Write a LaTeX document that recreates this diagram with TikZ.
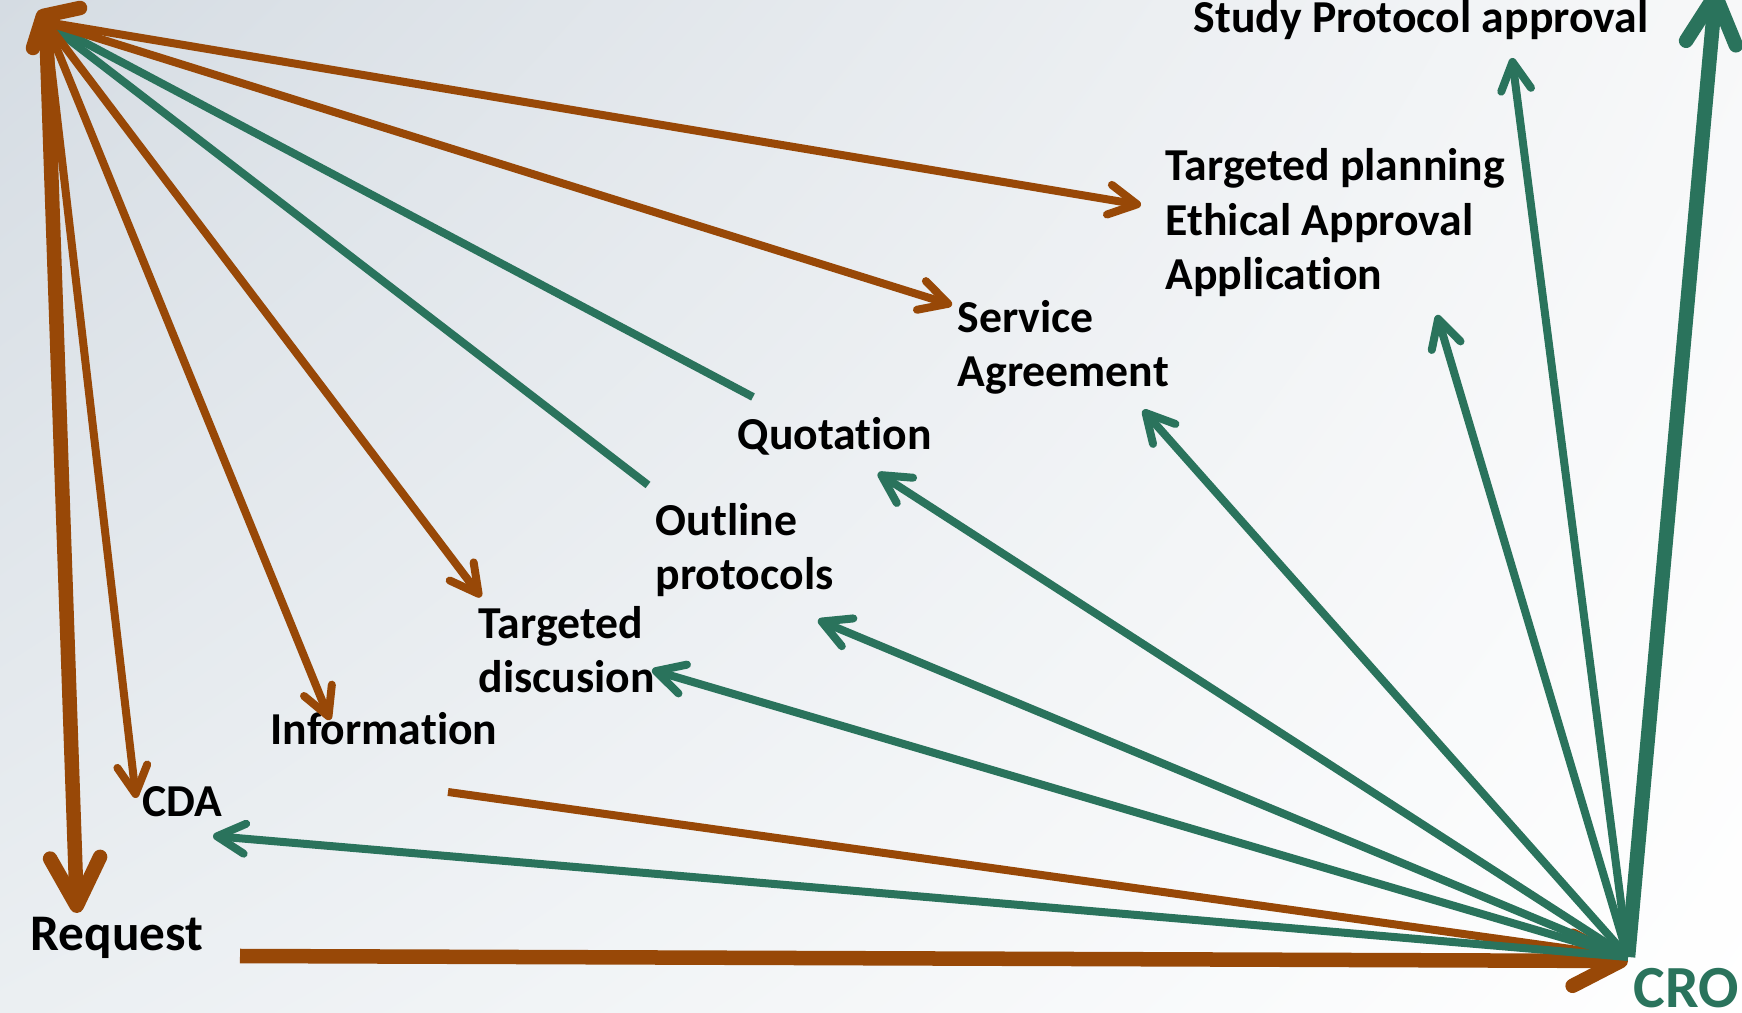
\documentclass[tikz,border=0pt]{standalone}
\usepackage{fontspec}
\setmainfont{Carlito}[Ligatures=NoCommon]
\usetikzlibrary{arrows.meta}
\usetikzlibrary{shadings}
\definecolor{brn}{HTML}{984807}
\definecolor{grn}{HTML}{2A735C}
\definecolor{bga}{HTML}{D5DCE3}
\definecolor{bgb}{HTML}{F7F8F9}
\definecolor{bgc}{HTML}{EBEFF2}
\tikzstyle{lbl}=[inner sep=0pt,anchor=base west,align=left,font=\bfseries\fontsize{13}{15.6}\selectfont]
\tikzstyle{arr}=[line width=0.08cm,-{Straight Barb[length=0.28cm,width=0.3cm,round]}]
\tikzstyle{arrfat}=[line width=0.145cm,-{Straight Barb[length=0.48cm,width=0.5cm,round]}]
\tikzstyle{seg}=[line width=0.08cm]

\begin{document}
\begin{tikzpicture}[x=0.01cm,y=-0.01cm]
  \shade[upper left=bga,upper right=bgb,lower left=bgc,lower right=white] (0,0) rectangle (1742,1013);
  \useasboundingbox (0,0) rectangle (1742,1013);

  \node [lbl] (spa) at (1193,33) {Study Protocol approval};
  \node [lbl] (tpl) at (1165,290) {Targeted planning\\Ethical Approval\\Application};
  \node [lbl] (svc) at (957,387) {Service\\Agreement};
  \node [lbl] (quo) at (737,450) {Quotation};
  \node [lbl] (out) at (655,590) {Outline\\protocols};
  \node [lbl] (tdis) at (478,693) {Targeted\\discusion};
  \node [lbl] (inf) at (270,745) {Information};
  \node [lbl] (cda) at (142,817) {CDA};
  \node [lbl,font=\bfseries\fontsize{14.6}{17}\selectfont] (req) at (30,950) {Request};
  \node [lbl,text=grn,font=\bfseries\fontsize{17}{20}\selectfont] (cro) at (1633,1008) {CRO};

  \coordinate (hub) at (46,22);
  \coordinate (cx) at (1628,957);
  \coordinate (h-tip) at (43,16);
  \coordinate (h-w1) at (33,48);
  \coordinate (h-w2) at (80,8);
  \coordinate (t-req) at (77,913);
  \coordinate (t-cda) at (136,798);
  \coordinate (t-inf) at (330,720);
  \coordinate (t-tdis) at (481,597);
  \coordinate (t-svc) at (952,305);
  \coordinate (t-tpl) at (1141,205);
  \coordinate (q-end) at (753,397);
  \coordinate (o-end) at (648,485);
  \coordinate (i-end) at (448,792);
  \coordinate (r-end) at (240,956);
  \coordinate (t-cro) at (1628,961);
  \coordinate (g-spa) at (1512,58);
  \coordinate (g-tpl) at (1437,315);
  \coordinate (g-svc) at (1143,410);
  \coordinate (g-quo) at (878,473);
  \coordinate (g-out) at (818,620);
  \coordinate (g-tdis) at (652,670);
  \coordinate (g-cda) at (213,836);
  \coordinate (g-top) at (1716,-12);

  \draw [grn,seg] (hub) -- (q-end);
  \draw [grn,seg] (hub) -- (o-end);
  \draw [brn,arrfat] (hub) -- (t-req);
  \draw [brn,arr] (hub) -- (t-cda);
  \draw [brn,arr] (hub) -- (t-inf);
  \draw [brn,arr] (hub) -- (t-tdis);
  \draw [brn,arr] (hub) -- (t-svc);
  \draw [brn,arr] (hub) -- (t-tpl);
  \draw [brn,line width=0.145cm,line cap=round,line join=round] (h-w1) -- (h-tip) -- (h-w2);
  \draw [brn,seg] (cx) -- (i-end);
  \draw [brn,arrfat] (r-end) -- (t-cro);
  \draw [grn,arr] (cx) -- (g-spa);
  \draw [grn,arr] (cx) -- (g-tpl);
  \draw [grn,arr] (cx) -- (g-svc);
  \draw [grn,arr] (cx) -- (g-quo);
  \draw [grn,arr] (cx) -- (g-out);
  \draw [grn,arr] (cx) -- (g-tdis);
  \draw [grn,arr] (cx) -- (g-cda);
  \draw [grn,arrfat] (cx) -- (g-top);
\end{tikzpicture}
\end{document}
